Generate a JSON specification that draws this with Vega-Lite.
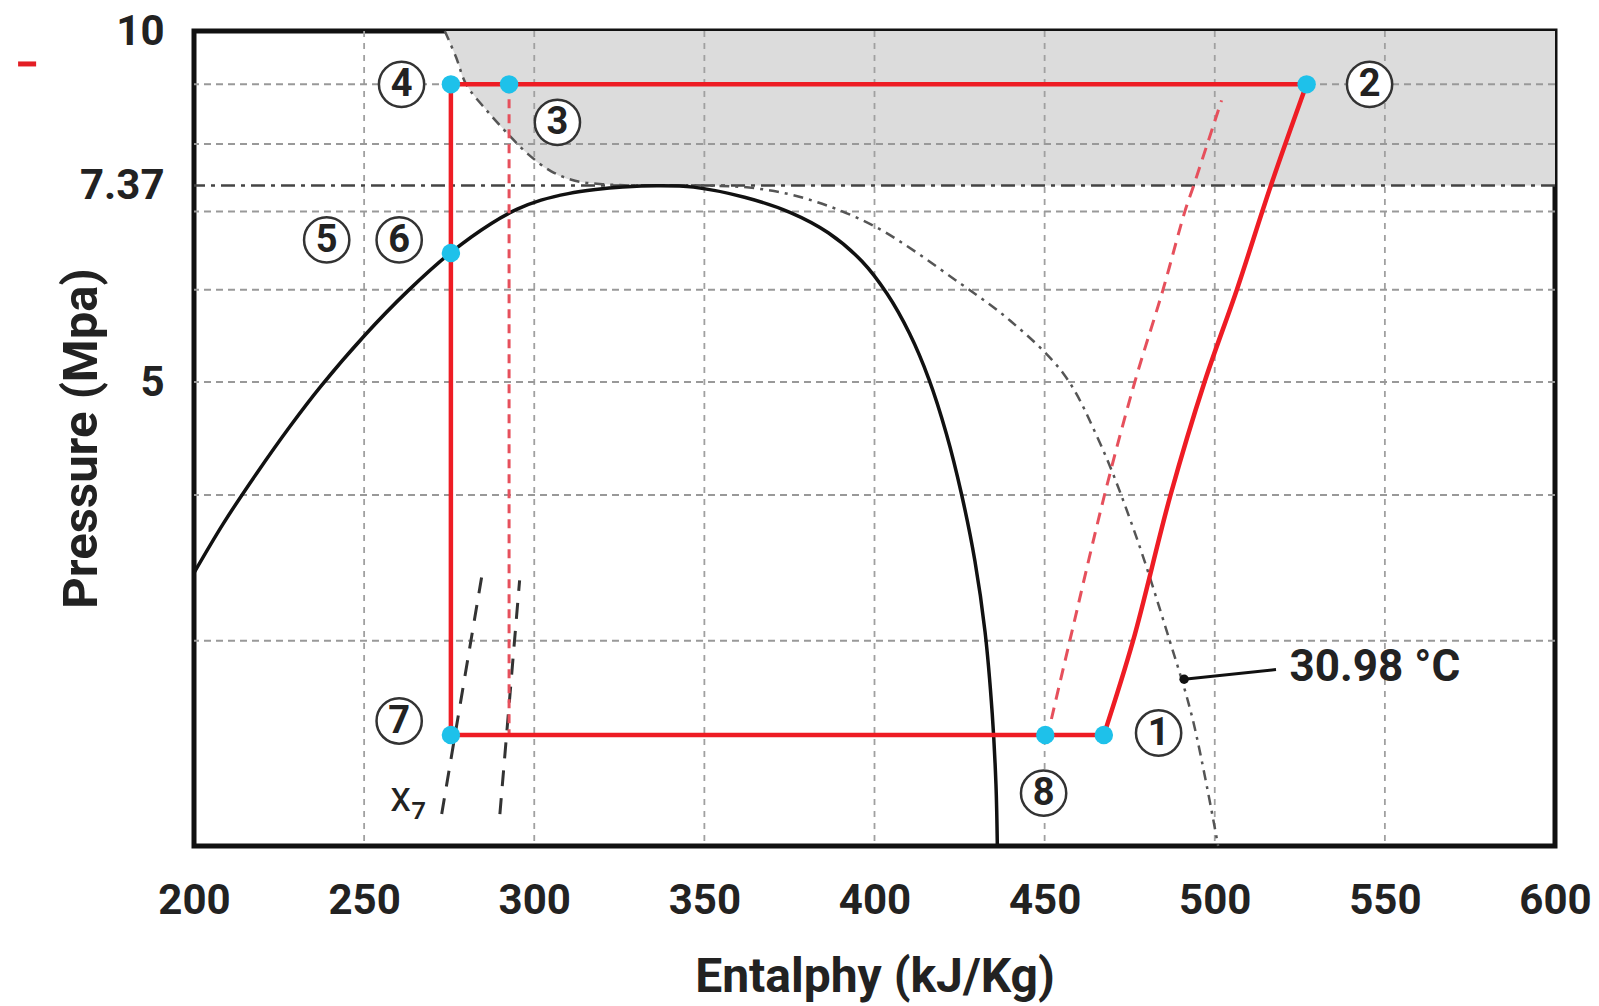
{
  "$schema": "https://vega.github.io/schema/vega-lite/v6.json",
  "width": 1361,
  "height": 815,
  "autosize": {"type": "none"},
  "padding": {"left": 194, "top": 31, "right": 44, "bottom": 160},
  "background": "white",
  "config": {"view": {"stroke": "#111", "strokeWidth": 5}, "font": "Roboto"},
  "datasets": {
    "shade": [
      {"h": 273.7, "P": 10}, {"h": 277, "P": 9.5}, {"h": 280, "P": 9.0}, {"h": 286, "P": 8.55},
      {"h": 292.6, "P": 8.14}, {"h": 298, "P": 7.85}, {"h": 305, "P": 7.58}, {"h": 312, "P": 7.44},
      {"h": 320, "P": 7.39}, {"h": 330, "P": 7.37}
    ],
    "hgrid": [{"P": 3}, {"P": 4}, {"P": 5}, {"P": 6}, {"P": 7}, {"P": 8}, {"P": 9}],
    "vgrid": [{"h": 250}, {"h": 300}, {"h": 350}, {"h": 400}, {"h": 450}, {"h": 500}, {"h": 550}],
    "crit": [{"P": 7.37}],
    "dome": [
      {"h": 200, "P": 3.43}, {"h": 208.7, "P": 3.784}, {"h": 218.5, "P": 4.178}, {"h": 228.3, "P": 4.584},
      {"h": 237.2, "P": 4.955}, {"h": 250, "P": 5.476}, {"h": 262.8, "P": 5.983}, {"h": 275.6, "P": 6.461},
      {"h": 287.4, "P": 6.839}, {"h": 295, "P": 7.034}, {"h": 302, "P": 7.16}, {"h": 310, "P": 7.253},
      {"h": 318, "P": 7.311}, {"h": 326, "P": 7.348}, {"h": 336, "P": 7.367}, {"h": 346.8, "P": 7.347},
      {"h": 361.8, "P": 7.201}, {"h": 375.3, "P": 6.987}, {"h": 386.4, "P": 6.714}, {"h": 396.3, "P": 6.346},
      {"h": 403.7, "P": 5.951}, {"h": 410.3, "P": 5.502}, {"h": 416.0, "P": 5.027}, {"h": 421.1, "P": 4.517},
      {"h": 425.6, "P": 4.004}, {"h": 429.5, "P": 3.513}, {"h": 432.5, "P": 3.051}, {"h": 434.6, "P": 2.597},
      {"h": 435.7, "P": 2.257}, {"h": 436.1, "P": 2.0}
    ],
    "iso": [
      {"h": 273.7, "P": 10}, {"h": 277, "P": 9.5}, {"h": 280, "P": 9.0}, {"h": 286, "P": 8.55},
      {"h": 292.6, "P": 8.14}, {"h": 298, "P": 7.85}, {"h": 305, "P": 7.58}, {"h": 312, "P": 7.44},
      {"h": 320, "P": 7.39}, {"h": 330, "P": 7.37}, {"h": 350, "P": 7.37}, {"h": 365, "P": 7.33},
      {"h": 380, "P": 7.18}, {"h": 400, "P": 6.8}, {"h": 425, "P": 6.08}, {"h": 440, "P": 5.64},
      {"h": 455.6, "P": 5.08}, {"h": 466, "P": 4.45}, {"h": 476, "P": 3.75},
      {"h": 486.6, "P": 3.01}, {"h": 493.5, "P": 2.57}, {"h": 501, "P": 2.0}
    ],
    "xq": [
      {"g": "a", "h": 284.6, "P": 3.41}, {"g": "a", "h": 272.8, "P": 2.13},
      {"g": "b", "h": 295.7, "P": 3.38}, {"g": "b", "h": 289.9, "P": 2.13}
    ],
    "isen": [
      {"h": 452, "P": 2.57}, {"h": 457.4, "P": 3.0}, {"h": 467.6, "P": 4.0}, {"h": 476.5, "P": 5.0},
      {"h": 484.8, "P": 6.0}, {"h": 491.2, "P": 7.0}, {"h": 493.8, "P": 7.37}, {"h": 502, "P": 8.72}
    ],
    "vdash": [{"h": 292.6, "P": 9.0}, {"h": 292.6, "P": 2.49}],
    "cycle": [
      {"o": 1, "h": 527, "P": 9.0}, {"o": 2, "h": 275.5, "P": 9.0}, {"o": 3, "h": 275.5, "P": 2.49},
      {"o": 4, "h": 467.4, "P": 2.49}
    ],
    "comp": [
      {"h": 467.4, "P": 2.49}, {"h": 476, "P": 3.0}, {"h": 487, "P": 4.0}, {"h": 497, "P": 5.0},
      {"h": 506.5, "P": 6.0}, {"h": 516.5, "P": 7.37}, {"h": 527, "P": 9.0}
    ],
    "pts": [
      {"h": 467.4, "P": 2.49}, {"h": 527, "P": 9.0}, {"h": 292.6, "P": 9.0}, {"h": 275.5, "P": 9.0},
      {"h": 275.5, "P": 6.45}, {"h": 275.5, "P": 2.49}, {"h": 450.2, "P": 2.49}
    ],
    "labels": [
      {"t": "1", "h": 483.5, "P": 2.5}, {"t": "2", "h": 545.5, "P": 9.0}, {"t": "3", "h": 306.8, "P": 8.35},
      {"t": "4", "h": 261, "P": 9.0}, {"t": "5", "h": 239, "P": 6.62}, {"t": "6", "h": 260.3, "P": 6.62},
      {"t": "7", "h": 260.3, "P": 2.56}, {"t": "8", "h": 449.7, "P": 2.22}
    ],
    "xlab": [{"t": "x₇", "h": 263, "P": 2.2}],
    "note": [{"t": "30.98 °C", "h": 522, "P": 2.84}],
    "pointer": [{"h": 491, "P": 2.78}, {"h": 518, "P": 2.834}],
    "dot": [{"h": 491, "P": 2.78}],
    "stray": [{"h": 148.3, "h2": 153.6, "P": 9.37}]
  },
  "layer": [
    {
      "data": {"name": "shade"},
      "mark": {"type": "area", "orient": "horizontal", "color": "#dcdcdc", "opacity": 1, "interpolate": "monotone"},
      "encoding": {
        "x": {
          "field": "h", "type": "quantitative",
          "scale": {"type": "linear", "domain": [200, 600], "nice": false, "zero": false},
          "axis": {
            "title": "Entalphy (kJ/Kg)", "values": [200, 250, 300, 350, 400, 450, 500, 550, 600], "format": "d",
            "grid": false, "ticks": false, "tickSize": 0, "domain": false, "labelFlush": false, "labelOverlap": false,
            "labelFont": "Roboto", "labelFontSize": 42, "labelFontWeight": "bold", "labelColor": "#222",
            "labelBaseline": "alphabetic", "labelPadding": 67,
            "titleFont": "Roboto", "titleFontSize": 48, "titleFontWeight": "bold", "titleColor": "#222",
            "titleBaseline": "alphabetic", "titleY": 145
          }
        },
        "x2": {"datum": 600},
        "y": {
          "field": "P", "type": "quantitative",
          "scale": {"type": "log", "domain": [2, 10], "nice": false},
          "axis": {
            "title": "Pressure (Mpa)", "values": [10, 7.37, 5], "format": "~g",
            "grid": false, "ticks": false, "tickSize": 0, "domain": false, "labelOverlap": false,
            "labelFont": "Roboto", "labelFontSize": 42, "labelFontWeight": "bold", "labelColor": "#222",
            "labelPadding": 30, "labelBaseline": "middle",
            "titleFont": "Roboto", "titleFontSize": 49, "titleFontWeight": "bold", "titleColor": "#222",
            "titleAngle": -90, "titleBaseline": "alphabetic", "titleX": -98, "titleY": 407
          }
        }
      }
    },
    {
      "data": {"name": "vgrid"},
      "mark": {"type": "rule", "stroke": "#a0a0a0", "strokeWidth": 1.8, "strokeDash": [6, 6]},
      "encoding": {"x": {"field": "h", "type": "quantitative"}}
    },
    {
      "data": {"name": "hgrid"},
      "mark": {"type": "rule", "stroke": "#999999", "strokeWidth": 2, "strokeDash": [7, 5]},
      "encoding": {"y": {"field": "P", "type": "quantitative"}}
    },
    {
      "data": {"name": "crit"},
      "mark": {"type": "rule", "stroke": "#444", "strokeWidth": 2.5, "strokeDash": [14, 6, 4, 6]},
      "encoding": {"y": {"field": "P", "type": "quantitative"}}
    },
    {
      "data": {"name": "iso"},
      "mark": {"type": "line", "stroke": "#555", "strokeWidth": 2.5, "strokeDash": [10, 6, 3, 6], "interpolate": "catmull-rom"},
      "encoding": {"x": {"field": "h", "type": "quantitative"}, "y": {"field": "P", "type": "quantitative"}}
    },
    {
      "data": {"name": "dome"},
      "mark": {"type": "line", "stroke": "#111", "strokeWidth": 3.5, "interpolate": "catmull-rom"},
      "encoding": {"x": {"field": "h", "type": "quantitative"}, "y": {"field": "P", "type": "quantitative"}}
    },
    {
      "data": {"name": "xq"},
      "mark": {"type": "line", "stroke": "#333", "strokeWidth": 3, "strokeDash": [16, 12]},
      "encoding": {"x": {"field": "h", "type": "quantitative"}, "y": {"field": "P", "type": "quantitative"}, "detail": {"field": "g"}}
    },
    {
      "data": {"name": "vdash"},
      "mark": {"type": "line", "stroke": "#e6505c", "strokeWidth": 3, "strokeDash": [9, 6]},
      "encoding": {"x": {"field": "h", "type": "quantitative"}, "y": {"field": "P", "type": "quantitative"}}
    },
    {
      "data": {"name": "isen"},
      "mark": {"type": "line", "stroke": "#e6505c", "strokeWidth": 3, "strokeDash": [12, 8], "interpolate": "catmull-rom"},
      "encoding": {"x": {"field": "h", "type": "quantitative"}, "y": {"field": "P", "type": "quantitative"}}
    },
    {
      "data": {"name": "cycle"},
      "mark": {"type": "line", "stroke": "#ee1c24", "strokeWidth": 4.5, "strokeJoin": "miter"},
      "encoding": {"x": {"field": "h", "type": "quantitative"}, "y": {"field": "P", "type": "quantitative"}, "order": {"field": "o"}}
    },
    {
      "data": {"name": "comp"},
      "mark": {"type": "line", "stroke": "#ee1c24", "strokeWidth": 4.5, "interpolate": "catmull-rom"},
      "encoding": {"x": {"field": "h", "type": "quantitative"}, "y": {"field": "P", "type": "quantitative"}}
    },
    {
      "data": {"name": "pointer"},
      "mark": {"type": "line", "stroke": "#111", "strokeWidth": 3},
      "encoding": {"x": {"field": "h", "type": "quantitative"}, "y": {"field": "P", "type": "quantitative"}}
    },
    {
      "data": {"name": "dot"},
      "mark": {"type": "point", "shape": "circle", "filled": true, "color": "#111", "size": 90, "opacity": 1},
      "encoding": {"x": {"field": "h", "type": "quantitative"}, "y": {"field": "P", "type": "quantitative"}}
    },
    {
      "data": {"name": "pts"},
      "mark": {"type": "point", "shape": "circle", "filled": true, "color": "#1ec1ea", "size": 340, "opacity": 1},
      "encoding": {"x": {"field": "h", "type": "quantitative"}, "y": {"field": "P", "type": "quantitative"}}
    },
    {
      "data": {"name": "labels"},
      "mark": {"type": "point", "shape": "circle", "filled": true, "fill": "white", "stroke": "#333", "strokeWidth": 2.5, "size": 2050, "opacity": 1},
      "encoding": {"x": {"field": "h", "type": "quantitative"}, "y": {"field": "P", "type": "quantitative"}}
    },
    {
      "data": {"name": "labels"},
      "mark": {"type": "text", "font": "Roboto", "fontSize": 38, "fontWeight": "bold", "color": "#222", "align": "center", "baseline": "middle", "dy": 1},
      "encoding": {"x": {"field": "h", "type": "quantitative"}, "y": {"field": "P", "type": "quantitative"}, "text": {"field": "t"}}
    },
    {
      "data": {"name": "xlab"},
      "mark": {"type": "text", "font": "Roboto", "fontSize": 42, "color": "#222", "align": "center", "baseline": "middle"},
      "encoding": {"x": {"field": "h", "type": "quantitative"}, "y": {"field": "P", "type": "quantitative"}, "text": {"field": "t"}}
    },
    {
      "data": {"name": "note"},
      "mark": {"type": "text", "font": "Roboto", "fontSize": 44, "fontWeight": "bold", "color": "#222", "align": "left", "baseline": "middle"},
      "encoding": {"x": {"field": "h", "type": "quantitative"}, "y": {"field": "P", "type": "quantitative"}, "text": {"field": "t"}}
    },
    {
      "data": {"name": "stray"},
      "mark": {"type": "rule", "stroke": "#e31e24", "strokeWidth": 5},
      "encoding": {"x": {"field": "h", "type": "quantitative"}, "x2": {"field": "h2"}, "y": {"field": "P", "type": "quantitative"}}
    }
  ]
}
